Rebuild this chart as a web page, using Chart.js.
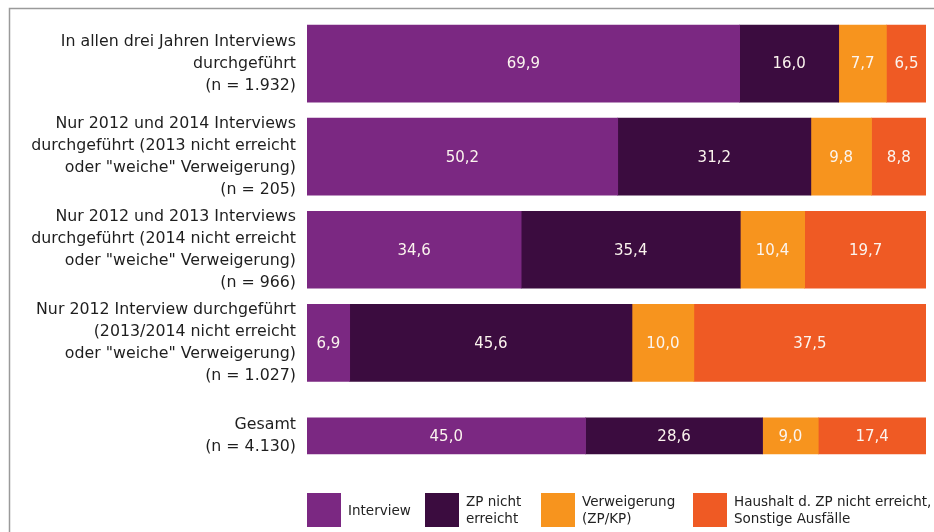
<!DOCTYPE html>
<html lang="de">
<head>
  <meta charset="UTF-8" />
  <title>Teilnahmeverlauf 2012-2014</title>
  <script src="https://cdn.jsdelivr.net/npm/chart.js"></script>
  <style>
    html, body { margin: 0; padding: 0; background: #fff; }
    canvas { display: block; }
  </style>
</head>
<body>
  <canvas id="barChart" width="934" height="532"></canvas>

  <script>
    const groups = [
      ['In allen drei Jahren Interviews', 'durchgeführt', '(n = 1.932)'],
      ['Nur 2012 und 2014 Interviews', 'durchgeführt (2013 nicht erreicht', 'oder "weiche" Verweigerung)', '(n = 205)'],
      ['Nur 2012 und 2013 Interviews', 'durchgeführt (2014 nicht erreicht', 'oder "weiche" Verweigerung)', '(n = 966)'],
      ['Nur 2012 Interview durchgeführt', '(2013/2014 nicht erreicht', 'oder "weiche" Verweigerung)', '(n = 1.027)'],
      ['Gesamt', '(n = 4.130)']
    ];
    const interview  = [69.9, 50.2, 34.6, 6.9, 45.0];
    const notReached = [16.0, 31.2, 35.4, 45.6, 28.6];
    const refusal    = [7.7, 9.8, 10.4, 10.0, 9.0];
    const household  = [6.5, 8.8, 19.7, 37.5, 17.4];

    const seriesNames = [
      ['Interview'],
      ['ZP nicht', 'erreicht'],
      ['Verweigerung', '(ZP/KP)'],
      ['Haushalt d. ZP nicht erreicht,', 'Sonstige Ausfälle']
    ];
    const colors = ['#7b2882', '#3b0c3f', '#f7941e', '#ef5a24'];
    const series = [interview, notReached, refusal, household];

    // the "Gesamt" row is drawn thinner, so it gets its own datasets
    const last = groups.length - 1;
    const datasets = [];
    series.forEach((values, i) => {
      datasets.push({
        label: seriesNames[i].join(' '),
        data: values.map((v, j) => j === last ? null : v),
        backgroundColor: colors[i],
        barThickness: 77
      });
    });
    series.forEach((values, i) => {
      datasets.push({
        label: seriesNames[i].join(' ') + ' (Gesamt)',
        data: values.map((v, j) => j === last ? v : null),
        backgroundColor: colors[i],
        barThickness: 36
      });
    });

    const font = '"DejaVu Sans", Verdana, sans-serif';

    const frame = {
      id: 'frame',
      beforeDraw(chart) {
        const ctx = chart.ctx;
        ctx.save();
        ctx.strokeStyle = '#9a9a9a';
        ctx.lineWidth = 1.5;
        ctx.beginPath();
        ctx.moveTo(9.5, 532);
        ctx.lineTo(9.5, 8.5);
        ctx.lineTo(934, 8.5);
        ctx.stroke();
        ctx.restore();
      }
    };

    const valueLabels = {
      id: 'valueLabels',
      afterDatasetsDraw(chart) {
        const ctx = chart.ctx;
        ctx.save();
        ctx.font = '15px ' + font;
        ctx.textAlign = 'center';
        ctx.textBaseline = 'middle';
        ctx.fillStyle = '#fbf4ee';
        chart.data.datasets.forEach((ds, i) => {
          chart.getDatasetMeta(i).data.forEach((bar, j) => {
            const v = ds.data[j];
            if (v == null) return;
            const p = bar.getProps(['x', 'y', 'base'], true);
            ctx.fillText(v.toFixed(1).replace('.', ','), (p.x + p.base) / 2, p.y + 1);
          });
        });
        ctx.restore();
      }
    };

    const boxLegend = {
      id: 'boxLegend',
      afterDraw(chart) {
        const ctx = chart.ctx;
        const xs = [307, 425, 541, 693];
        const top = 493, size = 34, lineH = 17;
        ctx.save();
        ctx.font = '13.5px ' + font;
        ctx.textAlign = 'left';
        ctx.textBaseline = 'middle';
        seriesNames.forEach((lines, i) => {
          ctx.fillStyle = colors[i];
          ctx.fillRect(xs[i], top, size, size);
          ctx.fillStyle = '#222';
          const y0 = top + size / 2 - (lines.length - 1) * lineH / 2 + 1;
          lines.forEach((t, k) => ctx.fillText(t, xs[i] + size + 7, y0 + k * lineH));
        });
        ctx.restore();
      }
    };

    new Chart(document.getElementById('barChart'), {
      type: 'bar',
      data: { labels: groups, datasets: datasets },
      options: {
        indexAxis: 'y',
        responsive: false,
        animation: false,
        layout: { padding: { top: 17, bottom: 49.5, right: 8, left: 0 } },
        plugins: {
          legend: { display: false },
          tooltip: { enabled: false }
        },
        scales: {
          x: { stacked: true, min: 0, max: 100, display: false },
          y: {
            stacked: true,
            grid: { display: false, drawTicks: false },
            border: { display: false },
            ticks: {
              autoSkip: false,
              padding: 11,
              color: '#1e1e1e',
              font: { family: font, size: 15.8, lineHeight: 1.39 }
            },
            afterFit(scale) {
              scale.width = 307;
              scale.paddingTop = 0;
              scale.paddingBottom = 0;
            }
          }
        }
      },
      plugins: [frame, valueLabels, boxLegend]
    });
  </script>
</body>
</html>
